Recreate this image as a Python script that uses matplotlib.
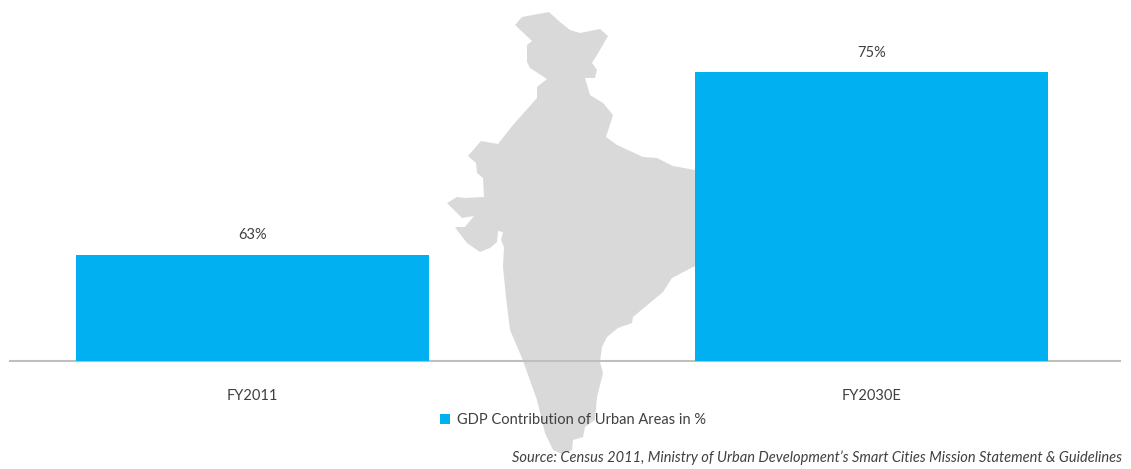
import matplotlib
matplotlib.use('Agg')
import matplotlib.pyplot as plt
from matplotlib.patches import Polygon

plt.rcParams['font.family'] = ['Lato', 'DejaVu Sans']

W, H = 1131, 469
TEXT = '#404040'

categories = ['FY2011', 'FY2030E']
values = [63, 75]
value_labels = ['63%', '75%']
series_name = 'GDP Contribution of Urban Areas in %'
source = 'Source: Census 2011, Ministry of Urban Development\u2019s Smart Cities Mission Statement & Guidelines'

# background silhouette, traced in image pixels (decoration, not data)
india_outline = [
    (515, 25), (522, 17), (549, 12), (560, 22), (570, 30), (580, 33), (600, 29), (608, 36),
    (597, 55), (592, 63), (597, 70), (595, 78), (585, 78), (590, 95), (603, 103), (613, 115),
    (606, 137), (617, 145), (643, 157), (657, 158), (673, 166), (700, 171), (700, 265),
    (693, 267), (672, 278), (663, 292), (633, 317), (632, 323), (618, 328), (607, 337),
    (602, 347), (600, 362), (603, 373), (597, 397), (595, 420), (585, 427), (583, 437),
    (573, 440), (572, 450), (562, 454), (553, 450), (545, 433), (537, 400), (522, 358),
    (510, 330), (506, 297), (503, 267), (504, 247), (501, 240), (503, 232), (498, 231),
    (497, 242), (490, 248), (480, 252), (467, 243), (457, 230), (455, 227), (465, 227),
    (474, 216), (462, 218), (452, 208), (447, 203), (457, 197), (465, 198), (484, 197),
    (483, 178), (477, 173), (476, 163), (468, 156), (481, 141), (498, 144), (513, 125),
    (537, 98), (537, 87), (547, 79), (530, 68), (527, 62), (527, 45), (532, 41),
]

fig = plt.figure(figsize=(W / 100, H / 100), dpi=100)
ax = fig.add_axes([10 / W, 1 - 361 / H, 1110 / W, 351 / H])
ax.patch.set_alpha(0)

fig.add_artist(Polygon([(x / W, 1 - y / H) for x, y in india_outline], closed=True,
                       transform=fig.transFigure, fc='#d9d9d9', ec='none', zorder=-1))

bars = ax.bar(categories, values, width=0.57, color='#00b0f0', label=series_name, zorder=3)
ax.bar_label(bars, labels=value_labels, padding=9, fontsize=10.5, color=TEXT)

ax.set_xlim(-0.392, 1.401)
ax.set_ylim(56, 79.1)
ax.set_yticks([])
ax.tick_params(axis='x', length=0, pad=20, labelsize=10.5, labelcolor=TEXT)
for side in ['top', 'left', 'right']:
    ax.spines[side].set_visible(False)
ax.spines['bottom'].set_color('#bfbfbf')
ax.spines['bottom'].set_linewidth(1.5)

fig.legend(loc='center', bbox_to_anchor=(573 / W, 1 - 420 / H), frameon=False, fontsize=10.5,
           labelcolor=TEXT, handlelength=0.7, handleheight=0.7, handletextpad=0.5,
           borderpad=0, borderaxespad=0)

fig.text(1122 / W, 1 - 458 / H, source, ha='right', va='center', style='italic',
         fontsize=10.5, color=TEXT)

fig.savefig('out.png', dpi=100)
